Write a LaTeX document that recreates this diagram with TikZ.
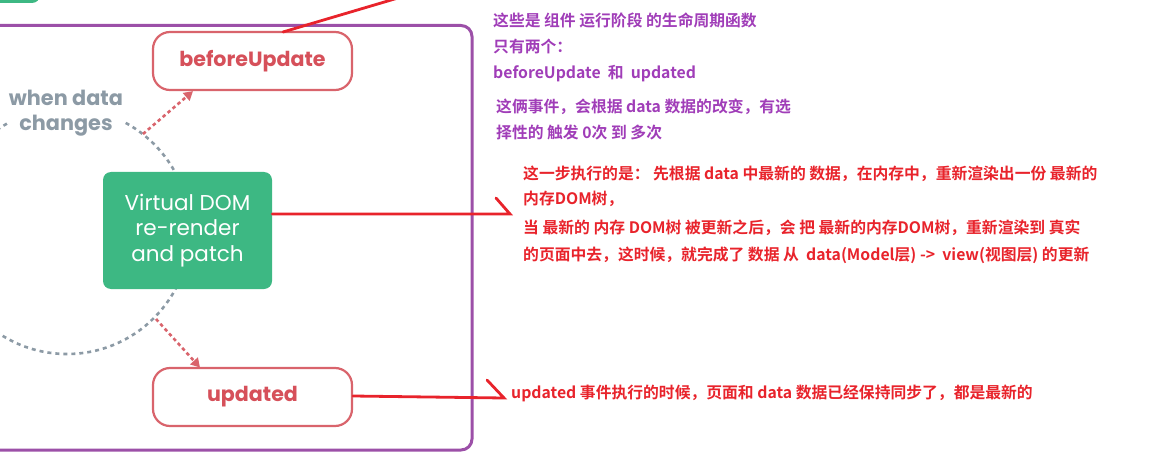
\documentclass[tikz,border=0pt]{standalone}
\usepackage{fontspec}
\setmainfont{Poppins}
\newfontfamily\cjk{Noto Sans CJK SC}[BoldFont={Noto Sans CJK SC Bold}]
\usetikzlibrary{arrows.meta}
\definecolor{framepurple}{HTML}{9C50A8}
\definecolor{hookred}{HTML}{D9646C}
\definecolor{hooktext}{HTML}{D6505A}
\definecolor{vgreen}{HTML}{3DB883}
\definecolor{cyclegray}{HTML}{8C9AA5}
\definecolor{notepurple}{HTML}{A03DB8}
\definecolor{notered}{HTML}{E8232B}
\begin{document}
\begin{tikzpicture}[x=1pt,y=-1pt,
  hook/.style={draw=hookred, line width=2.2pt, rounded corners=17pt, fill=white,
    text=hooktext, font=\bfseries\fontsize{20.6}{22}\selectfont,
    minimum width=199pt, minimum height=58pt, inner sep=0pt},
  vnode/.style={fill=vgreen, rounded corners=8pt, text=white, align=center,
    font=\fontsize{21.5}{25.5}\selectfont, minimum width=169pt, minimum height=117pt, inner sep=0pt},
  cyc/.style={draw=cyclegray, line width=2.6pt, dash pattern=on 4pt off 4pt},
  hookarrow/.style={draw=hookred, line width=2.6pt, dash pattern=on 3.5pt off 3pt,
    -{Triangle[length=9pt,width=10pt]}},
  notep/.style={anchor=west, text=notepurple, inner sep=0pt,
    font=\cjk\bfseries\fontsize{15.8}{17}\selectfont},
  noter/.style={anchor=west, text=notered, inner sep=0pt,
    font=\cjk\bfseries\fontsize{15.8}{17}\selectfont},
  redpen/.style={draw=notered, line width=2.8pt, line cap=round}
]
\useasboundingbox (0,0) rectangle (1155,465);
% green box at the top-left corner
\fill[vgreen, rounded corners=8pt] (-30,-30) rectangle (40,3);
% frame
\draw[framepurple, line width=3pt, rounded corners=11pt] (-20,25.5) rectangle (472,450);
% cycle
\draw[cyc] (67,231) circle[radius=123pt];
\node[text=cyclegray, font=\bfseries\fontsize{20.8}{24.5}\selectfont, align=center,
  fill=white, inner sep=0pt] (wdc) at (66,113) {when data\\changes};
\coordinate (c1) at (143,134);
\coordinate (c2) at (156,319);
% nodes
\node[hook] (bu) at (252.5,61) {beforeUpdate};
\node[hook] (up) at (252.5,397) {updated};
\node[vnode] (vd) at (187.5,230.5) {Virtual DOM\\re-render\\and patch};
% dotted arrows
\draw[hookarrow] (c1) -- (bu.south west -| 193,0);
\draw[hookarrow] (c2) -- (200,367.5);
% notes
\node[notep] (n1) at (493,20) {这些是 组件 运行阶段 的生命周期函数};
\node[notep] (n2) at (493,47) {只有两个：};
\node[notep] (n3) at (493,74) {beforeUpdate~~和~~updated};
\node[notep] (n4) at (496,107) {这俩事件，会根据 data 数据的改变，有选};
\node[notep] (n5) at (496,133) {择性的 触发 0次 到 多次};
\node[noter] (r1) at (523,174) {这一步执行的是： 先根据 data 中最新的 数据，在内存中，重新渲染出一份 最新的};
\node[noter] (r2) at (523,199) {内存DOM树，};
\node[noter] (r3) at (523,228) {当 最新的 内存 DOM树 被更新之后，会 把 最新的内存DOM树，重新渲染到 真实};
\node[noter] (r4) at (523,255) {的页面中去，这时候，就完成了 数据 从~~data(Model层) ->~~view(视图层) 的更新};
\node[noter] (r5) at (511,393) {updated 事件执行的时候，页面和 data 数据已经保持同步了，都是最新的};
% hand-drawn red pen marks
\coordinate (t1) at (510,214);
\coordinate (b1) at (496,198);
\coordinate (t2) at (504,398);
\coordinate (b2) at (487,380);
\coordinate (t0) at (425,-10);
\draw[redpen] (vd.east |- 0,214) -- (t1) -- (b1);
\draw[redpen] (up.east |- 0,396) -- (t2) -- (b2);
\draw[redpen] (283,32) -- (t0);
\end{tikzpicture}
\end{document}
